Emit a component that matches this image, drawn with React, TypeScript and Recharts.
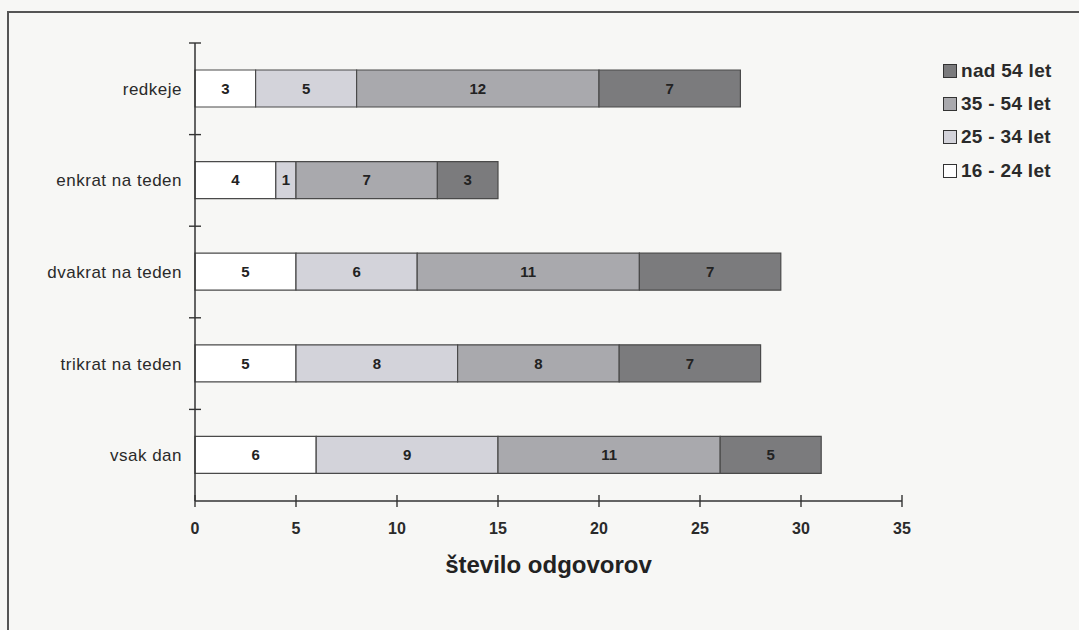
import React from 'react';
import { BarChart, Bar, XAxis, YAxis, LabelList, Legend } from 'recharts';

const categories = ['redkeje', 'enkrat na teden', 'dvakrat na teden', 'trikrat na teden', 'vsak dan'];
const age16to24 = [3, 4, 5, 5, 6];
const age25to34 = [5, 1, 6, 8, 9];
const age35to54 = [12, 7, 11, 8, 11];
const ageOver54 = [7, 3, 7, 7, 5];
const xTicks = [0, 5, 10, 15, 20, 25, 30, 35];

const series = [
  { key: 'a', name: '16 - 24 let', fill: '#ffffff' },
  { key: 'b', name: '25 - 34 let', fill: '#d3d3da' },
  { key: 'c', name: '35 - 54 let', fill: '#a9a9ad' },
  { key: 'd', name: 'nad 54 let', fill: '#7b7b7d' },
];

const data = categories.map((name, i) => ({
  name,
  a: age16to24[i],
  b: age25to34[i],
  c: age35to54[i],
  d: ageOver54[i],
}));

const W = 1079;
const H = 630;
const AXIS_X = 195;
const AXIS_Y = 501;
const TOP = 43;
const LEGEND_W = 136;
// plot ends at x=902; recharts also reserves the legend width on the right
const margin = { top: TOP, right: W - 902 - LEGEND_W, bottom: 0, left: 0 };
const band = (AXIS_Y - TOP) / categories.length;
const font = 'Arial, "Liberation Sans", Helvetica, sans-serif';

function XTick(props: any) {
  const { x, payload } = props;
  return (
    <g>
      <line x1={x} x2={x} y1={AXIS_Y - 6} y2={AXIS_Y + 6} stroke="#333" strokeWidth={1.4} />
      <text x={x} y={AXIS_Y + 33} textAnchor="middle" fontSize={16} fontWeight={700} fill="#2a2a2a" fontFamily={font}>
        {payload.value}
      </text>
    </g>
  );
}

function YTick(props: any) {
  const { y, payload } = props;
  return (
    <g>
      <line x1={AXIS_X - 6} x2={AXIS_X + 6} y1={y - band / 2} y2={y - band / 2} stroke="#333" strokeWidth={1.4} />
      <text x={AXIS_X - 13} y={y + 6} textAnchor="end" fontSize={17} letterSpacing={0.5} fill="#2a2a2a" fontFamily={font}>
        {payload.value}
      </text>
    </g>
  );
}

function LegendBox() {
  const items = [...series].reverse();
  return (
    <div style={{ fontFamily: font }}>
      {items.map((s) => (
        <div key={s.key} style={{ display: 'flex', alignItems: 'center', height: 33.3 }}>
          <span
            style={{
              display: 'inline-block',
              width: 12,
              height: 12,
              background: s.fill,
              border: '1.5px solid #333',
              marginRight: 4,
            }}
          />
          <span style={{ fontSize: 19, fontWeight: 700, letterSpacing: 0.3, color: '#2a2a2a' }}>{s.name}</span>
        </div>
      ))}
    </div>
  );
}

export default function App() {
  return (
    <div style={{ position: 'absolute', left: 0, top: 0, width: W, height: H, background: '#f7f7f5', overflow: 'hidden' }}>
      <div
        style={{
          position: 'absolute',
          left: 7,
          top: 11,
          width: W,
          height: H,
          borderLeft: '2px solid #555',
          borderTop: '2px solid #555',
        }}
      />
      <div style={{ position: 'absolute', left: 0, top: 0 }}>
        <BarChart width={W} height={H} data={data} layout="vertical" margin={margin} barSize={37}>
          <XAxis
            type="number"
            domain={[0, 35]}
            ticks={xTicks}
            interval={0}
            height={H - AXIS_Y}
            tick={<XTick />}
            tickLine={false}
            axisLine={{ stroke: '#333', strokeWidth: 1.5 }}
            label={{
              value: 'število odgovorov',
              position: 'insideBottom',
              offset: 57,
              fontSize: 24,
              fontWeight: 700,
              fill: '#222',
              fontFamily: font,
            }}
          />
          <YAxis
            type="category"
            dataKey="name"
            tick={<YTick />}
            tickLine={false}
            interval={0}
            width={AXIS_X}
            axisLine={{ stroke: '#333', strokeWidth: 1.5 }}
          />
          <Legend
            layout="vertical"
            verticalAlign="top"
            align="right"
            content={<LegendBox />}
            wrapperStyle={{ top: 54, left: 943, width: LEGEND_W }}
          />
          {series.map((s) => (
            <Bar key={s.key} dataKey={s.key} name={s.name} stackId="x" fill={s.fill} stroke="#4a4a4a" strokeWidth={1.2} isAnimationActive={false}>
              <LabelList dataKey={s.key} position="center" fontSize={15} fontWeight={700} fill="#222" fontFamily={font} />
            </Bar>
          ))}
        </BarChart>
      </div>
    </div>
  );
}
